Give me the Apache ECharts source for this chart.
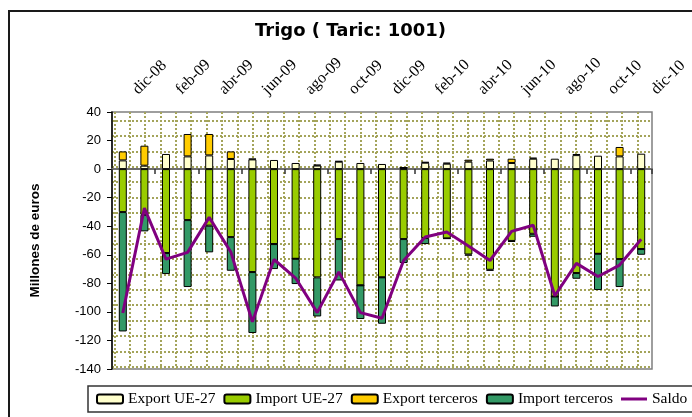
<!DOCTYPE html>
<html>
<head>
<meta charset="utf-8">
<script src="https://cdn.jsdelivr.net/npm/echarts@6/dist/echarts.min.js"></script>
<style>
html,body{margin:0;padding:0;background:#fff;overflow:hidden;}
#chart{position:absolute;left:0;top:0;width:692px;height:417px;}
#frame{position:absolute;left:8px;top:10px;width:720px;height:440px;border:2px solid #1a1a1a;pointer-events:none;box-sizing:border-box;}
</style>
</head>
<body>
<div id="chart"></div>
<div id="frame"></div>
<script>
const categories = ['dic-08','ene-09','feb-09','mar-09','abr-09','may-09','jun-09','jul-09','ago-09','sep-09','oct-09','nov-09','dic-09','ene-10','feb-10','mar-10','abr-10','may-10','jun-10','jul-10','ago-10','sep-10','oct-10','nov-10','dic-10'];
const exportUE = [6.1, 2.4, 10.6, 8.9, 9.6, 7.1, 6.8, 6.4, 4.3, 2.5, 5.2, 4.3, 3.6, 1.0, 4.5, 3.8, 5.2, 6.0, 4.3, 7.3, 7.3, 9.8, 9.4, 8.9, 10.8];
const importUE = [-30.1, -32.0, -58.8, -35.7, -39.6, -47.6, -72.1, -52.5, -62.8, -75.8, -49.0, -81.4, -75.8, -49.0, -48.3, -48.5, -59.8, -70.5, -50.3, -45.3, -89.2, -72.8, -59.3, -63.0, -56.0];
const exportTer = [6.3, 14.0, 0, 15.7, 15.0, 5.3, 0.5, 0, 0, 0.6, 0.5, 0, 0, 0.2, 0.5, 0.7, 1.4, 1.3, 3.0, 0.7, 0, 0.8, 0, 6.6, 0];
const importTer = [-83.6, -11.6, -14.7, -46.9, -18.7, -23.6, -42.7, -17.5, -17.7, -27.4, -29.0, -23.6, -32.5, -16.8, -4.2, -0.3, -0.8, -0.7, -0.7, -2.1, -7.0, -4.0, -25.4, -19.6, -4.0];
const saldo = [-100.8, -27.3, -63.0, -58.3, -33.8, -58.0, -107.0, -63.3, -76.3, -100.5, -72.0, -100.5, -104.5, -64.0, -47.6, -44.0, -53.8, -64.0, -43.6, -39.3, -88.7, -66.0, -75.2, -67.2, -49.1];
const yTicks = {min: -140, max: 40, interval: 20};

const chart = echarts.init(document.getElementById('chart'), null, {renderer: 'canvas'});
const dotted = {color: '#a4a45a', width: 2, type: [2, 2]};
const hiddenAxis = {show: true, axisLine: {show: false}, axisTick: {show: false}, axisLabel: {show: false}, splitLine: {show: false}};
const barBase = {type: 'bar', stack: 'total', barWidth: 8, xAxisIndex: 0, yAxisIndex: 0};

chart.setOption({
  animation: false,
  textStyle: {fontFamily: 'Liberation Sans'},
  title: {
    text: 'Trigo ( Taric: 1001)',
    left: 250, top: 17,
    textStyle: {fontFamily: 'DejaVu Sans', fontWeight: 'bold', fontSize: 18, color: '#000'}
  },
  legend: {
    left: 88, top: 386, width: 700,
    padding: [5, 60, 5, 8],
    itemGap: 8, itemWidth: 26, itemHeight: 9,
    borderColor: '#333', borderWidth: 1.5,
    textStyle: {fontFamily: 'Liberation Serif', fontSize: 15.5, color: '#000'},
    data: ['Export UE-27', 'Import UE-27', 'Export terceros', 'Import terceros',
      {name: 'Saldo', icon: 'path://M0 0 H26 V3 H0 Z', itemStyle: {color: '#800080', borderWidth: 0}}]
  },
  grid: [
    {left: 112, right: 40, top: 112, bottom: 48, show: true, borderColor: '#7f7f7f', borderWidth: 1.5, backgroundColor: 'transparent', containLabel: false, outerBoundsMode: 'none'},
    {left: 114.3, top: 112, width: 523, bottom: 48, containLabel: false, outerBoundsMode: 'none'},
    {left: 112, right: 40, top: 120.7, height: 246, containLabel: false, outerBoundsMode: 'none'},
    {left: 124.5, right: 27.5, top: 112, bottom: 48, containLabel: false, outerBoundsMode: 'none'}
  ],
  xAxis: [
    {
      type: 'category', gridIndex: 0, data: categories, position: 'bottom',
      axisLine: {onZero: true, lineStyle: {color: '#6e6e6e', width: 2}},
      axisTick: {show: true, interval: 1, length: 5, lineStyle: {color: '#333', width: 1.5}},
      axisLabel: {show: false},
      splitLine: {show: false}
    },
    Object.assign({}, hiddenAxis, {type: 'value', gridIndex: 1, min: 0, max: 34, interval: 1, splitLine: {show: true, lineStyle: dotted}}),
    Object.assign({}, hiddenAxis, {type: 'value', gridIndex: 2, min: 0, max: 1}),
    {
      type: 'category', gridIndex: 3, data: categories, position: 'top',
      axisLine: {show: false}, axisTick: {show: false}, splitLine: {show: false},
      axisLabel: {show: true, interval: 1, rotate: 45, margin: 20, fontFamily: 'Liberation Serif', fontSize: 16, color: '#000'}
    }
  ],
  yAxis: [
    {
      type: 'value', gridIndex: 0, min: yTicks.min, max: yTicks.max, interval: yTicks.interval,
      name: 'Millones de euros', nameLocation: 'middle', nameGap: 70, nameMoveOverlap: false,
      nameTextStyle: {fontFamily: 'Liberation Sans', fontWeight: 'bold', fontSize: 13.5, color: '#000'},
      axisLine: {show: true, onZero: false, lineStyle: {color: '#000', width: 1.5}},
      axisTick: {show: true, length: 5, lineStyle: {color: '#000', width: 1}},
      axisLabel: {margin: 11, fontFamily: 'Liberation Sans', fontSize: 13, color: '#000'},
      splitLine: {show: false}
    },
    Object.assign({}, hiddenAxis, {type: 'value', gridIndex: 1, min: 0, max: 1}),
    Object.assign({}, hiddenAxis, {type: 'value', gridIndex: 2, min: 0, max: 16, interval: 1, splitLine: {show: true, lineStyle: dotted}}),
    Object.assign({}, hiddenAxis, {type: 'value', gridIndex: 3, min: 0, max: 1})
  ],
  series: [
    Object.assign({}, barBase, {name: 'Export UE-27', data: exportUE, itemStyle: {color: '#FFFFCC', borderColor: '#000', borderWidth: 1}}),
    Object.assign({}, barBase, {name: 'Import UE-27', data: importUE, itemStyle: {color: '#99CC00', borderColor: '#000', borderWidth: 1}}),
    Object.assign({}, barBase, {name: 'Export terceros', data: exportTer, itemStyle: {color: '#FFCC00', borderColor: '#000', borderWidth: 1}}),
    Object.assign({}, barBase, {name: 'Import terceros', data: importTer, itemStyle: {color: '#339966', borderColor: '#000', borderWidth: 1}}),
    {name: 'Saldo', type: 'line', xAxisIndex: 0, yAxisIndex: 0, data: saldo, symbol: 'none', z: 5,
     lineStyle: {color: '#800080', width: 3}, itemStyle: {color: '#800080'}}
  ]
});
</script>
</body>
</html>
